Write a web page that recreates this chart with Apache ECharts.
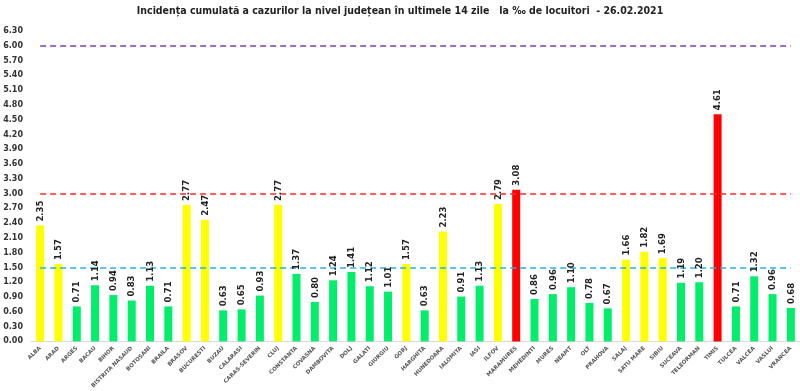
<!DOCTYPE html>
<html><head><meta charset="utf-8">
<script src="https://cdn.jsdelivr.net/npm/echarts@6/dist/echarts.min.js"></script>
<style>html,body{margin:0;padding:0;background:#fff}#c{width:800px;height:391px}</style>
</head><body><div id="c"></div>
<script>
const categories = ['ALBA','ARAD','ARGES','BACAU','BIHOR','BISTRITA NASAUD','BOTOSANI','BRAILA','BRASOV','BUCURESTI','BUZAU','CALARASI','CARAS-SEVERIN','CLUJ','CONSTANTA','COVASNA','DAMBOVITA','DOLJ','GALATI','GIURGIU','GORJ','HARGHITA','HUNEDOARA','IALOMITA','IASI','ILFOV','MARAMURES','MEHEDINTI','MURES','NEAMT','OLT','PRAHOVA','SALAJ','SATU MARE','SIBIU','SUCEAVA','TELEORMAN','TIMIS','TULCEA','VALCEA','VASLUI','VRANCEA'];
const values = [2.35,1.57,0.71,1.14,0.94,0.83,1.13,0.71,2.77,2.47,0.63,0.65,0.93,2.77,1.37,0.80,1.24,1.41,1.12,1.01,1.57,0.63,2.23,0.91,1.13,2.79,3.08,0.86,0.96,1.10,0.78,0.67,1.66,1.82,1.69,1.19,1.20,4.61,0.71,1.32,0.96,0.68];
const thresholds = [1.5, 3.0, 6.0];
const thresholdColors = ['#1fb4e6', '#ff2a2a', '#7a3fb0'];

function barColor(v){ return v >= 3 ? '#ff0000' : (v >= 1.5 ? '#ffff00' : '#00ee6a'); }

const chart = echarts.init(document.getElementById('c'));
chart.setOption({
  animation: false,
  title: {
    text: 'Incidența cumulată a cazurilor la nivel județean în ultimele 14 zile   la ‰ de locuitori  - 26.02.2021',
    left: 'center', top: 1,
    textStyle: {fontFamily: 'Liberation Sans Narrow, DejaVu Sans Condensed, sans-serif', fontSize: 10.5, fontWeight: 'bold', color: '#222'}
  },
  grid: {left: 31, right: 0, top: 31, bottom: 48},
  xAxis: {
    type: 'category', data: categories,
    axisTick: {show: false},
    axisLine: {lineStyle: {color: '#d9d9d9'}},
    axisLabel: {interval: 0, rotate: 45, fontSize: 5.5, fontWeight: 'bold', color: '#555', fontFamily: 'DejaVu Sans, sans-serif', margin: 6}
  },
  yAxis: {
    type: 'value', min: 0, max: 6.3, interval: 0.3,
    splitLine: {show: false},
    axisLine: {show: false}, axisTick: {show: false},
    axisLabel: {formatter: v => v.toFixed(2), fontSize: 8, fontWeight: 'bold', color: '#333', fontFamily: 'DejaVu Sans, sans-serif', margin: 8}
  },
  series: [{
    type: 'bar',
    barWidth: 8,
    data: values.map(v => ({value: v, itemStyle: {color: barColor(v)}})),
    markLine: {
      silent: true, symbol: 'none', label: {show: false},
      data: thresholds.map((t, i) => [
        {coord: [0, t], lineStyle: {color: thresholdColors[i], type: [6, 4], width: 1.5}},
        {coord: [categories.length - 1, t]}
      ])
    }
  }, {
    type: 'custom',
    data: values.map((v, i) => [i, v]),
    encode: {x: 0, y: 1},
    z: 5,
    renderItem: function (params, api) {
      const pt = api.coord([api.value(0), api.value(1)]);
      return {
        type: 'text',
        x: pt[0] + 0.5, y: pt[1] - 4,
        rotation: Math.PI / 2,
        style: {
          text: api.value(1).toFixed(2),
          fill: '#222',
          font: 'bold 8.5px "DejaVu Sans", sans-serif',
          align: 'left', verticalAlign: 'middle'
        }
      };
    }
  }]
});
</script></body></html>
